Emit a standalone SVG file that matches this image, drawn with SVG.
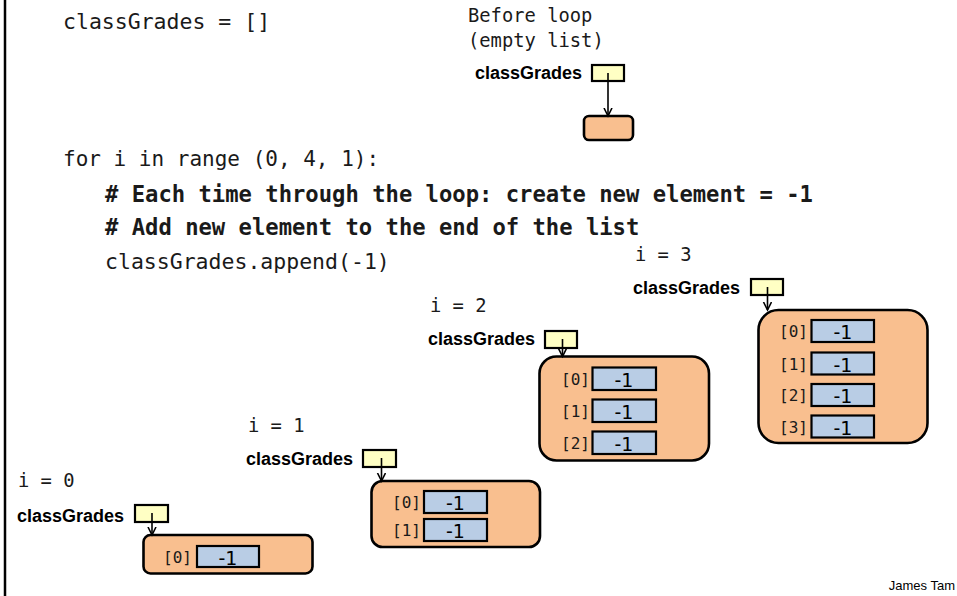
<svg xmlns="http://www.w3.org/2000/svg" width="957" height="596" viewBox="0 0 957 596">
  <style>
    .code { font-family: "DejaVu Sans Mono", "Liberation Mono", monospace; font-size: 21.5px; fill: #1a1a1a; }
    .code-b { font-family: "DejaVu Sans Mono", "Liberation Mono", monospace; font-size: 22.2px; font-weight: bold; fill: #1a1a1a; }
    .lbl { font-family: "DejaVu Sans Mono", "Liberation Mono", monospace; font-size: 18.8px; fill: #1a1a1a; }
    .var { font-family: "Liberation Sans", Arial, sans-serif; font-size: 18px; font-weight: bold; fill: #000; }
    .idx { font-family: "DejaVu Sans Mono", "Liberation Mono", monospace; font-size: 16px; fill: #1a1a1a; }
    .val { font-family: "DejaVu Sans", sans-serif; font-size: 19px; fill: #000; text-anchor: middle; }
    .ptr { fill: #ffffc4; stroke: #000; stroke-width: 2.2; }
    .list { fill: #f9bf8f; stroke: #000; stroke-width: 2.6; }
    .cell { fill: #b9cde5; stroke: #000; stroke-width: 2.2; }
    .link { stroke: #000; stroke-width: 1.6; fill: none; marker-end: url(#head); }
    .credit { font-family: "Liberation Sans", Arial, sans-serif; font-size: 13px; fill: #000; text-anchor: end; }
  </style>
  <defs>
    <marker id="head" markerUnits="userSpaceOnUse" markerWidth="10" markerHeight="10" refX="8" refY="4.5" orient="auto">
      <path d="M0,0.5 L8,4.5 L0,8.5" fill="none" stroke="#000" stroke-width="1.6"/>
    </marker>
  </defs>

  <rect width="957" height="596" fill="#fff"/>
  <!-- page edge -->
  <line x1="5" y1="0" x2="5" y2="596" stroke="#000" stroke-width="2.5"/>

  <g id="code">
    <text class="code" x="63" y="29">classGrades = []</text>
    <text class="code" x="63" y="166" style="font-size:21px">for i in range (0, 4, 1):</text>
    <text class="code-b" x="105" y="202"># Each time through the loop: create new element = -1</text>
    <text class="code-b" x="105" y="235"># Add new element to the end of the list</text>
    <text class="code" x="105" y="269">classGrades.append(-1)</text>
  </g>

  <g id="before-loop">
    <text class="lbl" x="468" y="22">Before loop</text>
    <text class="lbl" x="468" y="47">(empty list)</text>
    <text class="var" x="475" y="79">classGrades</text>
    <rect class="ptr" x="592" y="65" width="32" height="16"/>
    <rect class="list" x="584" y="116" width="49" height="24" rx="5"/>
  </g>

  <g id="iter-0">
    <text class="lbl" x="18" y="487">i = 0</text>
    <text class="var" x="17" y="522">classGrades</text>
    <rect class="ptr" x="135" y="505" width="33" height="17"/>
    <rect class="list" x="143.5" y="535" width="169" height="38.5" rx="7"/>
    <text class="idx" x="163" y="563">[0]</text>
    <rect class="cell" x="197" y="546" width="62" height="21"/>
    <text class="val" x="228" y="565">-1</text>
  </g>

  <g id="iter-1">
    <text class="lbl" x="248" y="432">i = 1</text>
    <text class="var" x="246" y="465">classGrades</text>
    <rect class="ptr" x="363" y="450" width="33" height="17"/>
    <rect class="list" x="371.5" y="481" width="168.5" height="66" rx="11"/>
    <text class="idx" x="392" y="508">[0]</text>
    <rect class="cell" x="424" y="491" width="63" height="22"/>
    <text class="val" x="455.5" y="510">-1</text>
    <text class="idx" x="392" y="536">[1]</text>
    <rect class="cell" x="424" y="519" width="63" height="22"/>
    <text class="val" x="455.5" y="538">-1</text>
  </g>

  <g id="iter-2">
    <text class="lbl" x="430" y="312">i = 2</text>
    <text class="var" x="428" y="345">classGrades</text>
    <rect class="ptr" x="545" y="331" width="32" height="17"/>
    <rect class="list" x="539.5" y="356.5" width="169.5" height="104" rx="17"/>
    <text class="idx" x="561" y="385">[0]</text>
    <rect class="cell" x="592.5" y="367.5" width="63.5" height="22.5"/>
    <text class="val" x="624" y="387">-1</text>
    <text class="idx" x="561" y="417">[1]</text>
    <rect class="cell" x="592.5" y="399.5" width="63.5" height="22.5"/>
    <text class="val" x="624" y="419">-1</text>
    <text class="idx" x="561" y="449">[2]</text>
    <rect class="cell" x="592.5" y="431.5" width="63.5" height="22.5"/>
    <text class="val" x="624" y="451">-1</text>
  </g>

  <g id="iter-3">
    <text class="lbl" x="635" y="261">i = 3</text>
    <text class="var" x="633" y="294">classGrades</text>
    <rect class="ptr" x="751" y="279" width="32" height="16"/>
    <rect class="list" x="758.5" y="310" width="169" height="133" rx="20"/>
    <text class="idx" x="779" y="337">[0]</text>
    <rect class="cell" x="811.5" y="320" width="62.5" height="22"/>
    <text class="val" x="843" y="339">-1</text>
    <text class="idx" x="779" y="369.5">[1]</text>
    <rect class="cell" x="811.5" y="352.5" width="62.5" height="22"/>
    <text class="val" x="843" y="371.5">-1</text>
    <text class="idx" x="779" y="401">[2]</text>
    <rect class="cell" x="811.5" y="384" width="62.5" height="22"/>
    <text class="val" x="843" y="403">-1</text>
    <text class="idx" x="779" y="432.5">[3]</text>
    <rect class="cell" x="811.5" y="415.5" width="62.5" height="22"/>
    <text class="val" x="843" y="434.5">-1</text>
  </g>

  <g id="connectors">
    <line class="link" x1="608" y1="73" x2="608" y2="116"/>
    <line class="link" x1="152" y1="513" x2="152" y2="535"/>
    <line class="link" x1="381.5" y1="458" x2="381.5" y2="481"/>
    <line class="link" x1="562.5" y1="339" x2="562.5" y2="356.5"/>
    <line class="link" x1="767.5" y1="287" x2="767.5" y2="310"/>
  </g>

  <text class="credit" x="955" y="590">James Tam</text>
</svg>
